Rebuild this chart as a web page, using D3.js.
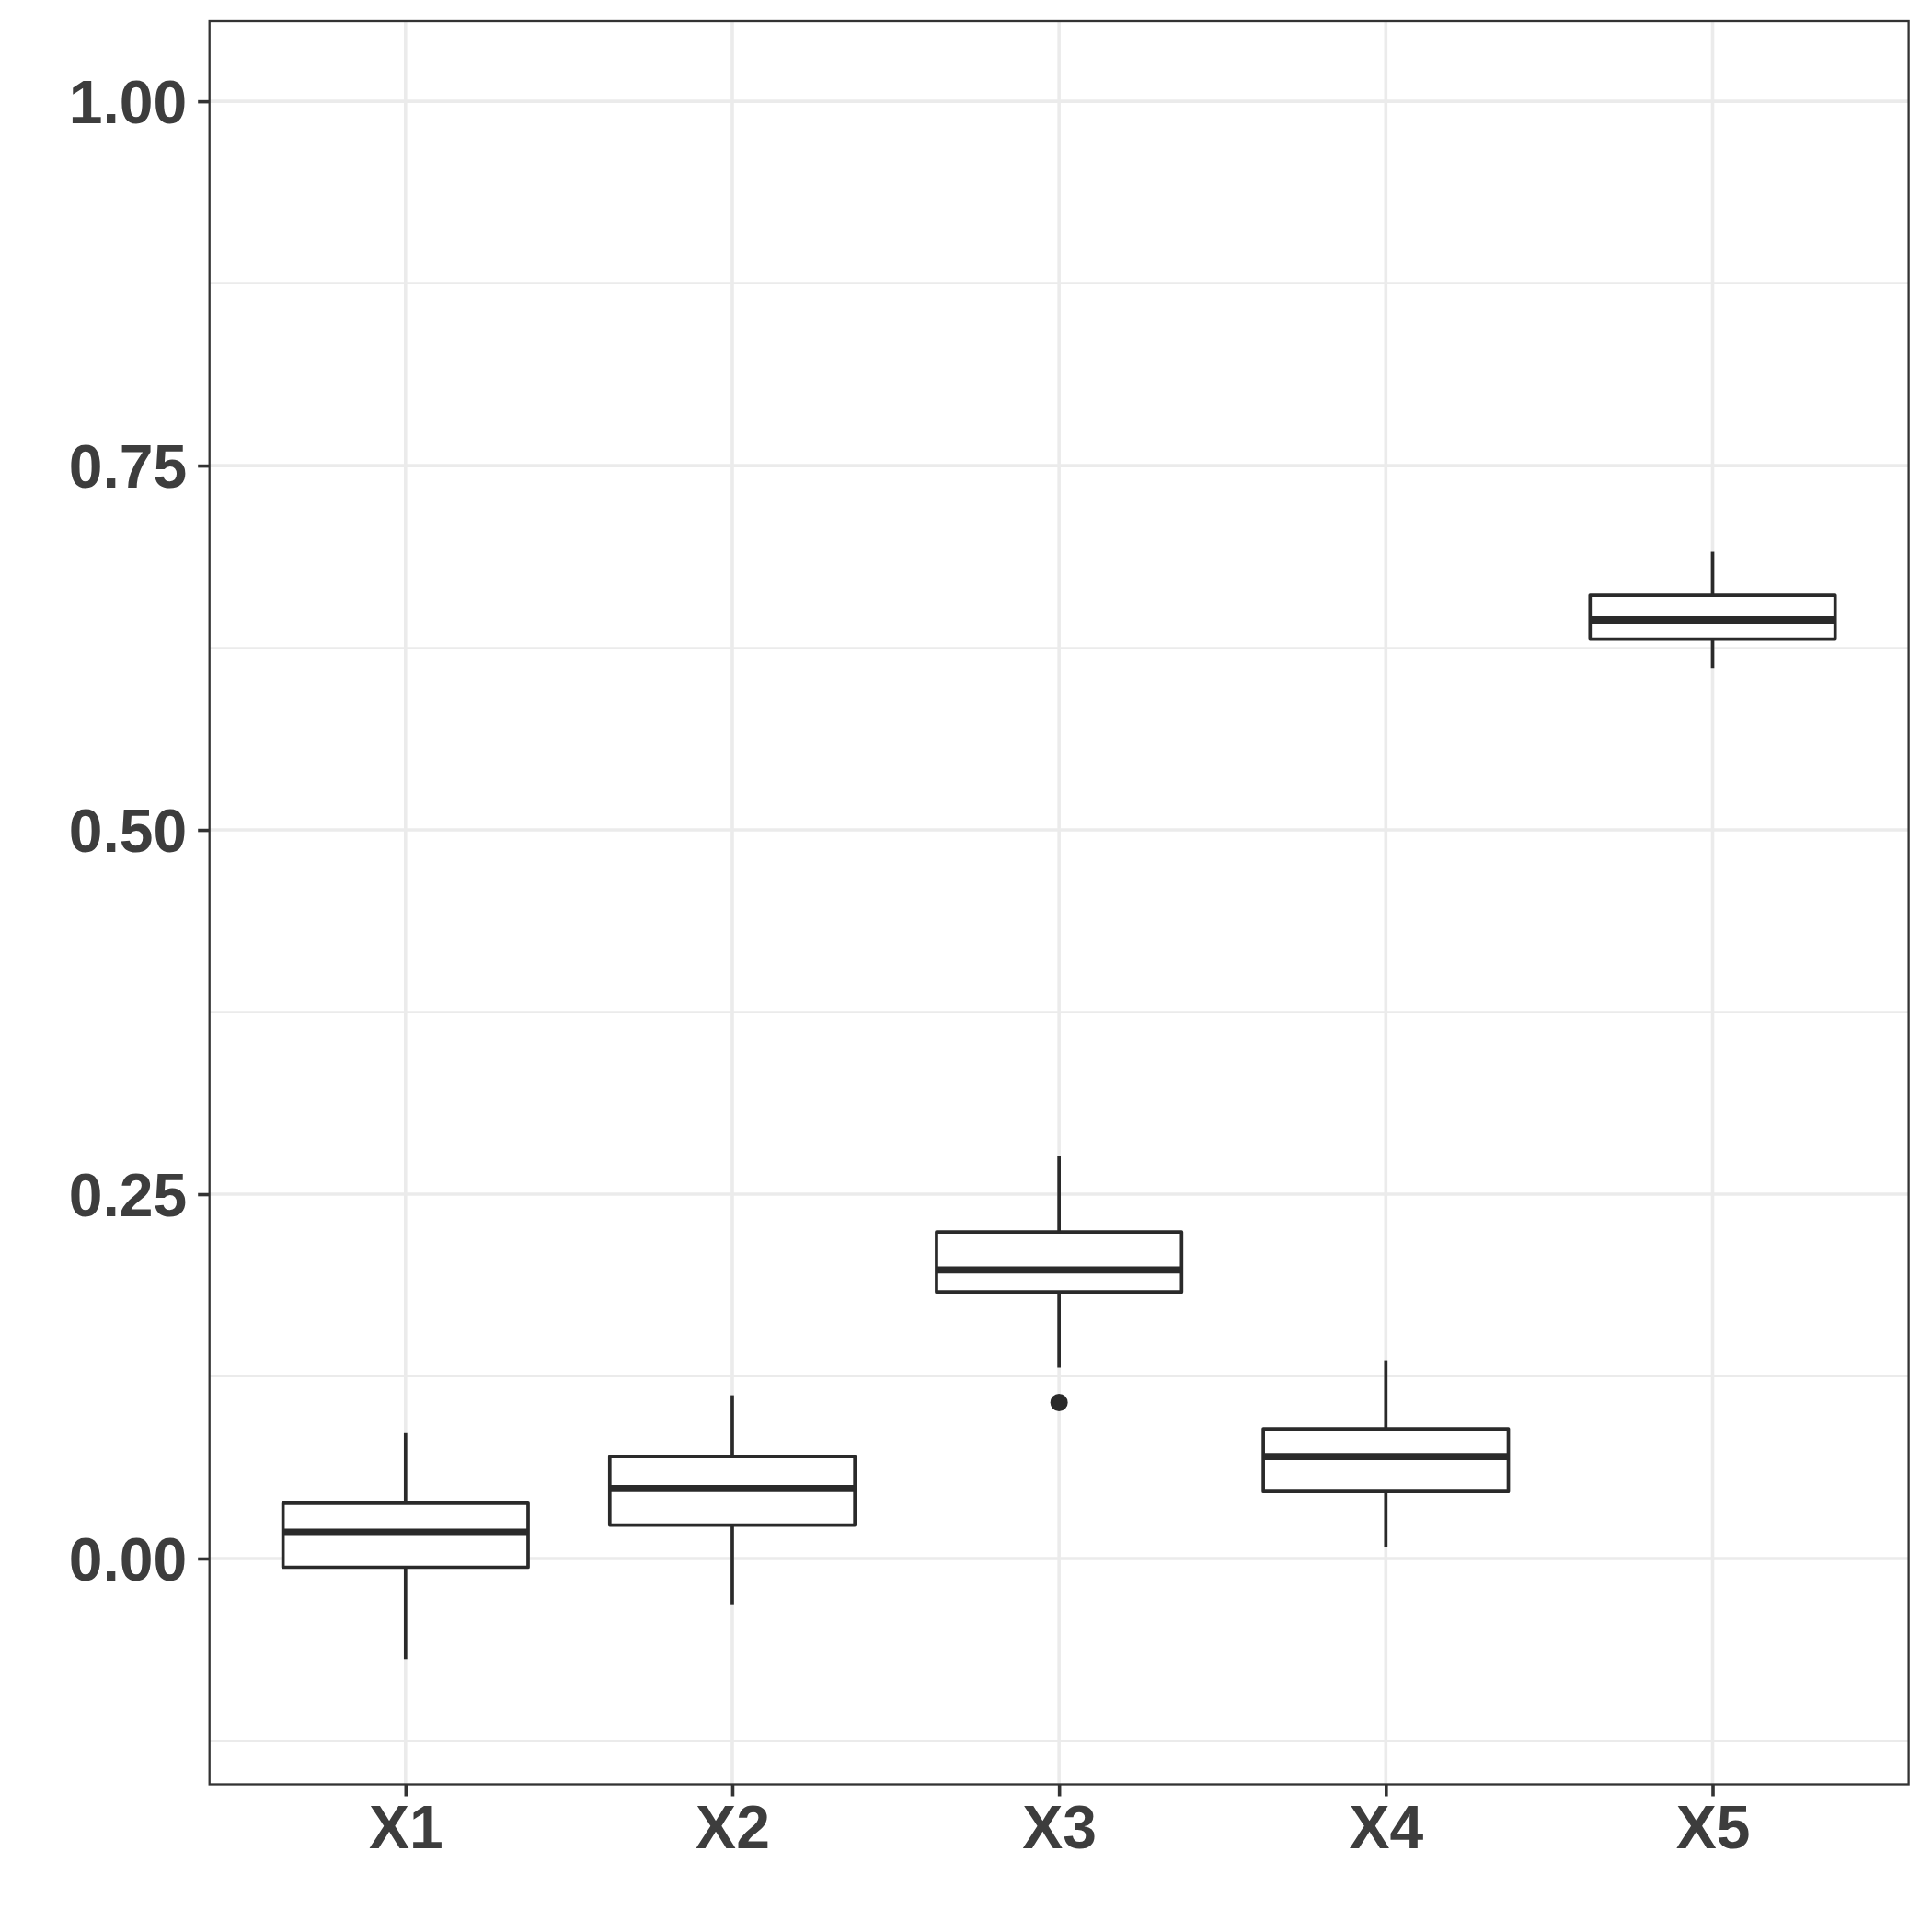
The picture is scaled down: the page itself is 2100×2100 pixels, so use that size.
<!DOCTYPE html>
<html>
<head>
<meta charset="utf-8">
<script src="https://cdn.jsdelivr.net/npm/d3@7"></script>
<style>
  html, body { margin: 0; padding: 0; background: #ffffff; }
  svg { display: block; }
</style>
</head>
<body>
<script>
// ---- data ----
const categories  = ["X1", "X2", "X3", "X4", "X5"];
const whiskerLow  = [-0.069, -0.032, 0.131, 0.008, 0.611];
const q1          = [-0.006,  0.023, 0.183, 0.046, 0.631];
const medians     = [ 0.018,  0.048, 0.198, 0.070, 0.644];
const q3          = [ 0.038,  0.070, 0.224, 0.089, 0.661];
const whiskerHigh = [ 0.086,  0.112, 0.276, 0.136, 0.691];
const outliers    = [[], [], [0.107], [], []];
const yTicks      = [0, 0.25, 0.5, 0.75, 1.0];
const yMinor      = [-0.125, 0.125, 0.375, 0.625, 0.875];
const yLimits     = [-0.1, 1.0];

const rows = categories.map((c, i) => ({
  cat: c, lo: whiskerLow[i], q1: q1[i], med: medians[i], q3: q3[i], hi: whiskerHigh[i], out: outliers[i]
}));

// ---- layout ----
const W = 2100, H = 2100;
const panel = { left: 227.7, right: 2074.6, top: 23, bottom: 1939.5 };
const textColor = "#3d3d3d";
const lineColor = "#2a2a2a";
const gridColor = "#ebebeb";
const fontFamily = "'Liberation Sans', Arial, Helvetica, sans-serif";

const span = yLimits[1] - yLimits[0];
const y = d3.scaleLinear()
  .domain([yLimits[0] - 0.05 * span, yLimits[1] + 0.05 * span])
  .range([panel.bottom, panel.top]);
const x = d3.scalePoint()
  .domain(categories)
  .range([panel.left, panel.right])
  .padding(0.6);
const boxW = x.step() * 0.75;

const svg = d3.select("body").append("svg")
  .attr("width", W).attr("height", H)
  .attr("viewBox", `0 0 ${W} ${H}`);

svg.append("rect").attr("width", W).attr("height", H).attr("fill", "#ffffff");

// grid
const grid = svg.append("g");
grid.selectAll("line.minor").data(yMinor).join("line")
  .attr("x1", panel.left).attr("x2", panel.right)
  .attr("y1", d => y(d)).attr("y2", d => y(d))
  .attr("stroke", gridColor).attr("stroke-width", 1.8);
grid.selectAll("line.majory").data(yTicks).join("line")
  .attr("x1", panel.left).attr("x2", panel.right)
  .attr("y1", d => y(d)).attr("y2", d => y(d))
  .attr("stroke", gridColor).attr("stroke-width", 3.6);
grid.selectAll("line.majorx").data(categories).join("line")
  .attr("y1", panel.top).attr("y2", panel.bottom)
  .attr("x1", d => x(d)).attr("x2", d => x(d))
  .attr("stroke", gridColor).attr("stroke-width", 3.6);

// boxes
const g = svg.append("g");
const bx = g.selectAll("g.box").data(rows).join("g").attr("class", "box");
bx.append("line")
  .attr("x1", d => x(d.cat)).attr("x2", d => x(d.cat))
  .attr("y1", d => y(d.hi)).attr("y2", d => y(d.q3))
  .attr("stroke", lineColor).attr("stroke-width", 3.7);
bx.append("line")
  .attr("x1", d => x(d.cat)).attr("x2", d => x(d.cat))
  .attr("y1", d => y(d.q1)).attr("y2", d => y(d.lo))
  .attr("stroke", lineColor).attr("stroke-width", 3.7);
bx.append("rect")
  .attr("x", d => x(d.cat) - boxW / 2).attr("width", boxW)
  .attr("y", d => y(d.q3)).attr("height", d => y(d.q1) - y(d.q3))
  .attr("fill", "#ffffff").attr("stroke", lineColor).attr("stroke-width", 3.7)
  .attr("stroke-linejoin", "round");
bx.append("line")
  .attr("x1", d => x(d.cat) - boxW / 2).attr("x2", d => x(d.cat) + boxW / 2)
  .attr("y1", d => y(d.med)).attr("y2", d => y(d.med))
  .attr("stroke", lineColor).attr("stroke-width", 7.8);
bx.selectAll("circle").data(d => d.out.map(v => ({ cat: d.cat, v }))).join("circle")
  .attr("cx", d => x(d.cat)).attr("cy", d => y(d.v)).attr("r", 9.5)
  .attr("fill", lineColor);

// panel border
svg.append("rect")
  .attr("x", panel.left).attr("y", panel.top)
  .attr("width", panel.right - panel.left).attr("height", panel.bottom - panel.top)
  .attr("fill", "none").attr("stroke", "#333333").attr("stroke-width", 2.3);

// axes
const yAxis = d3.axisLeft(y).tickValues(yTicks).tickFormat(d3.format(".2f"))
  .tickSize(12.5).tickPadding(12);
const ya = svg.append("g").attr("transform", `translate(${panel.left},0)`).call(yAxis);
ya.select(".domain").remove();
ya.selectAll(".tick line").attr("stroke", "#333333").attr("stroke-width", 3.6);
ya.selectAll(".tick text")
  .attr("fill", textColor).attr("font-family", fontFamily)
  .attr("font-weight", "bold").attr("font-size", 66).attr("dy", "0.36em");

const xAxis = d3.axisBottom(x).tickSize(13).tickPadding(10);
const xa = svg.append("g").attr("transform", `translate(0,${panel.bottom})`).call(xAxis);
xa.select(".domain").remove();
xa.selectAll(".tick line").attr("stroke", "#333333").attr("stroke-width", 3.6);
xa.selectAll(".tick text")
  .attr("fill", textColor).attr("font-family", fontFamily)
  .attr("font-weight", "bold").attr("font-size", 66).attr("dy", "0.71em");
</script>
</body>
</html>
